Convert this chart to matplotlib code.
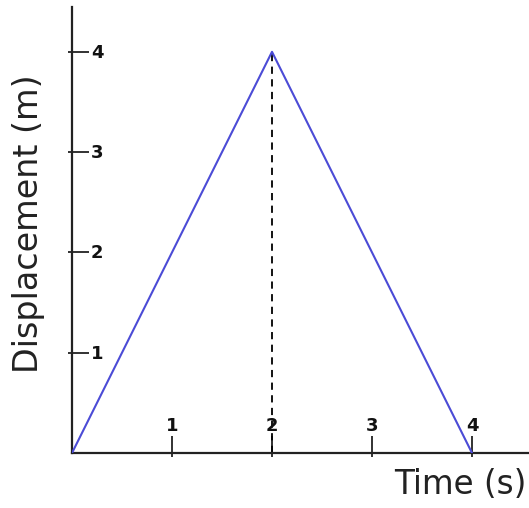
import matplotlib
matplotlib.use("Agg")
import matplotlib.pyplot as plt

# displacement vs time: up to 4 m at t=2 s, back to 0 at t=4 s
time_s = [0, 2, 4]
disp_m = [0, 4, 0]
peak_t = 2
peak_d = 4

xticks = [1, 2, 3, 4]
yticks = [1, 2, 3, 4]

W, H = 529, 508
fig = plt.figure(figsize=(W / 100, H / 100), dpi=100, facecolor="white")
# axes box in pixels: origin at (72, 453), 100 px per unit
x0, y0, x1, y1 = 72, 453, 529, 7
ax = fig.add_axes([x0 / W, (H - y0) / H, (x1 - x0) / W, (y0 - y1) / H])
ax.set_xlim(0, (x1 - x0) / 100.0)
ax.set_ylim(0, (y0 - y1) / 100.3)

for s in ["top", "right"]:
    ax.spines[s].set_visible(False)
for s in ["left", "bottom"]:
    ax.spines[s].set_linewidth(1.6)
    ax.spines[s].set_color("#222222")

ax.plot(time_s, disp_m, color="#4b4bd6", lw=1.5, solid_capstyle="round", zorder=3)
ax.plot([peak_t, peak_t], [0, peak_d], color="black", lw=1.3, ls=(0, (4, 3)), zorder=2)

# ticks poke mostly into the plot, with a short stub outside
ax.set_xticks(xticks)
ax.set_yticks(yticks)
ax.set_xticks(xticks, minor=True)
ax.set_yticks(yticks, minor=True)
ax.xaxis.remove_overlapping_locs = False
ax.yaxis.remove_overlapping_locs = False
ax.tick_params(which="major", direction="in", length=12, width=1.3, color="#222222",
               labelbottom=False, labelleft=False)
ax.tick_params(which="minor", direction="out", length=3, width=1.3, color="#222222")

# tick labels sit inside the axes, next to each tick
for t in xticks:
    ax.text(t, 0.265, str(t), ha="center", va="center", fontsize=13,
            fontweight="bold", color="#111111")
for v in yticks:
    ax.text(0.19, v - 0.01, str(v), ha="left", va="center", fontsize=13,
            fontweight="bold", color="#111111")

fig.text(460 / W, 1 - 485 / H, "Time (s)", ha="center", va="center",
         fontsize=23.5, color="#222222")
fig.text(29 / W, 1 - 224 / H, "Displacement (m)", ha="center", va="center",
         rotation=90, fontsize=24, color="#222222")

fig.savefig("out.png", dpi=100, facecolor="white")
